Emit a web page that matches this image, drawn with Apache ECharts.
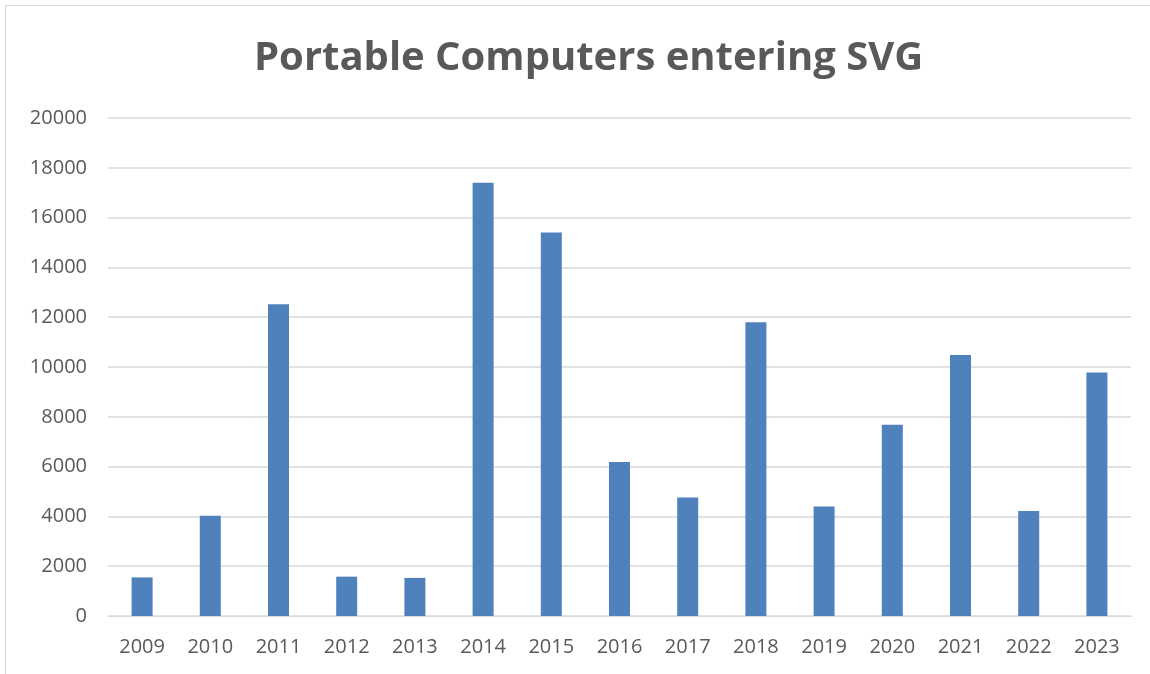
<!DOCTYPE html>
<html>
<head>
<meta charset="utf-8">
<script src="https://cdn.jsdelivr.net/npm/echarts@6/dist/echarts.min.js"></script>
<style>
    html, body { margin: 0; padding: 0; background: #fff; }
    #main { width: 1150px; height: 674px; }
</style>
</head>
<body>
<div id="main"></div>
<script>
    //--------------------------------------------------------【数据】
    var years = ['2009', '2010', '2011', '2012', '2013', '2014', '2015', '2016',
        '2017', '2018', '2019', '2020', '2021', '2022', '2023'];
    var computers = [1550, 4030, 12520, 1580, 1530, 17400, 15400, 6180,
        4760, 11800, 4400, 7680, 10480, 4220, 9780];
    var yTicks = [0, 2000, 4000, 6000, 8000, 10000, 12000, 14000, 16000, 18000, 20000];

    var textColor = '#595959',
        gridColor = '#d9d9d9';

    //--------------------------------------------------------【图表】
    echarts.init(document.getElementById('main')).setOption({
        animation: false,
        title: {
            text: 'Portable Computers entering SVG',
            left: 249,
            top: 34,
            textStyle: {
                color: textColor,
                fontFamily: 'Open Sans',
                fontWeight: 'bold',
                fontSize: 40
            }
        },
        graphic: [
            {
                type: 'rect',
                shape: {x: 5.5, y: 5.5, width: 1160, height: 680},
                style: {fill: 'none', stroke: gridColor, lineWidth: 1},
                silent: true
            }
        ],
        grid: {
            left: 108,
            right: 19,
            top: 118,
            bottom: 58
        },
        xAxis: {
            type: 'category',
            data: years,
            axisTick: {show: false},
            axisLine: {lineStyle: {color: gridColor, width: 1}},
            axisLabel: {
                color: textColor,
                fontFamily: 'Open Sans',
                fontSize: 20,
                margin: 21
            }
        },
        yAxis: {
            type: 'value',
            min: yTicks[0],
            max: yTicks[yTicks.length - 1],
            interval: 2000,
            axisLine: {show: false},
            axisTick: {show: false},
            splitLine: {lineStyle: {color: gridColor, width: 1.5}},
            axisLabel: {
                color: textColor,
                fontFamily: 'Open Sans',
                fontSize: 20,
                margin: 21,
                formatter: function (v) {
                    return String(v);
                }
            }
        },
        series: [
            {
                type: 'bar',
                data: computers,
                barWidth: 21,
                itemStyle: {color: '#4f81bd'}
            }
        ]
    });
</script>
</body>
</html>
